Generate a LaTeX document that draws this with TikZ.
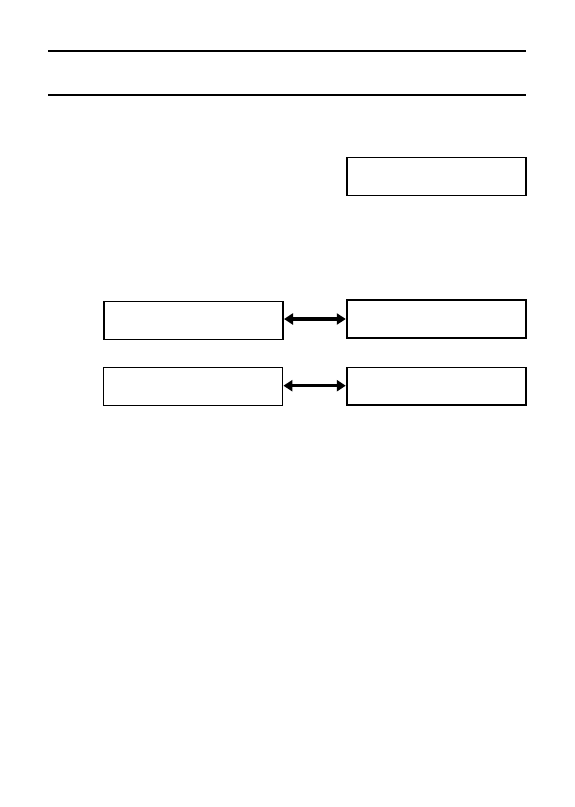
\documentclass[tikz,border=0pt]{standalone}
\usetikzlibrary{arrows.meta}
\begin{document}
\begin{tikzpicture}[x=1pt,y=-1pt,
  box/.style={draw=black,line width=1.2pt,minimum width=179pt,minimum height=38pt,inner sep=0pt,anchor=north west},
  rule/.style={line width=2.2pt},
  link/.style={line width=3.2pt,{Triangle[length=9pt,width=11pt]}-{Triangle[length=9pt,width=11pt]},shorten <=0.5pt,shorten >=0.5pt}]
\useasboundingbox (0,0) rectangle (574,807);
\coordinate (r1a) at (48,51);
\coordinate (r1b) at (525.5,51);
\coordinate (r2a) at (48,95);
\coordinate (r2b) at (525.5,95);
\draw[rule] (r1a) -- (r1b);
\draw[rule] (r2a) -- (r2b);
\node[box] (top) at (346.3,157) {};
\node[box] (aL) at (103.3,300.5) {};
\node[box] (aR) at (346.3,299.3) {};
\node[box,minimum height=38pt] (bL) at (102.7,366.7) {};
\node[box,minimum height=37.6pt] (bR) at (346.3,366.7) {};
\draw[link] (aL.east |- 0,319) -- (aR.west |- 0,319);
\draw[link,line width=2.5pt] (bL.east |- 0,385.7) -- (bR.west |- 0,385.7);
\end{tikzpicture}
\end{document}
